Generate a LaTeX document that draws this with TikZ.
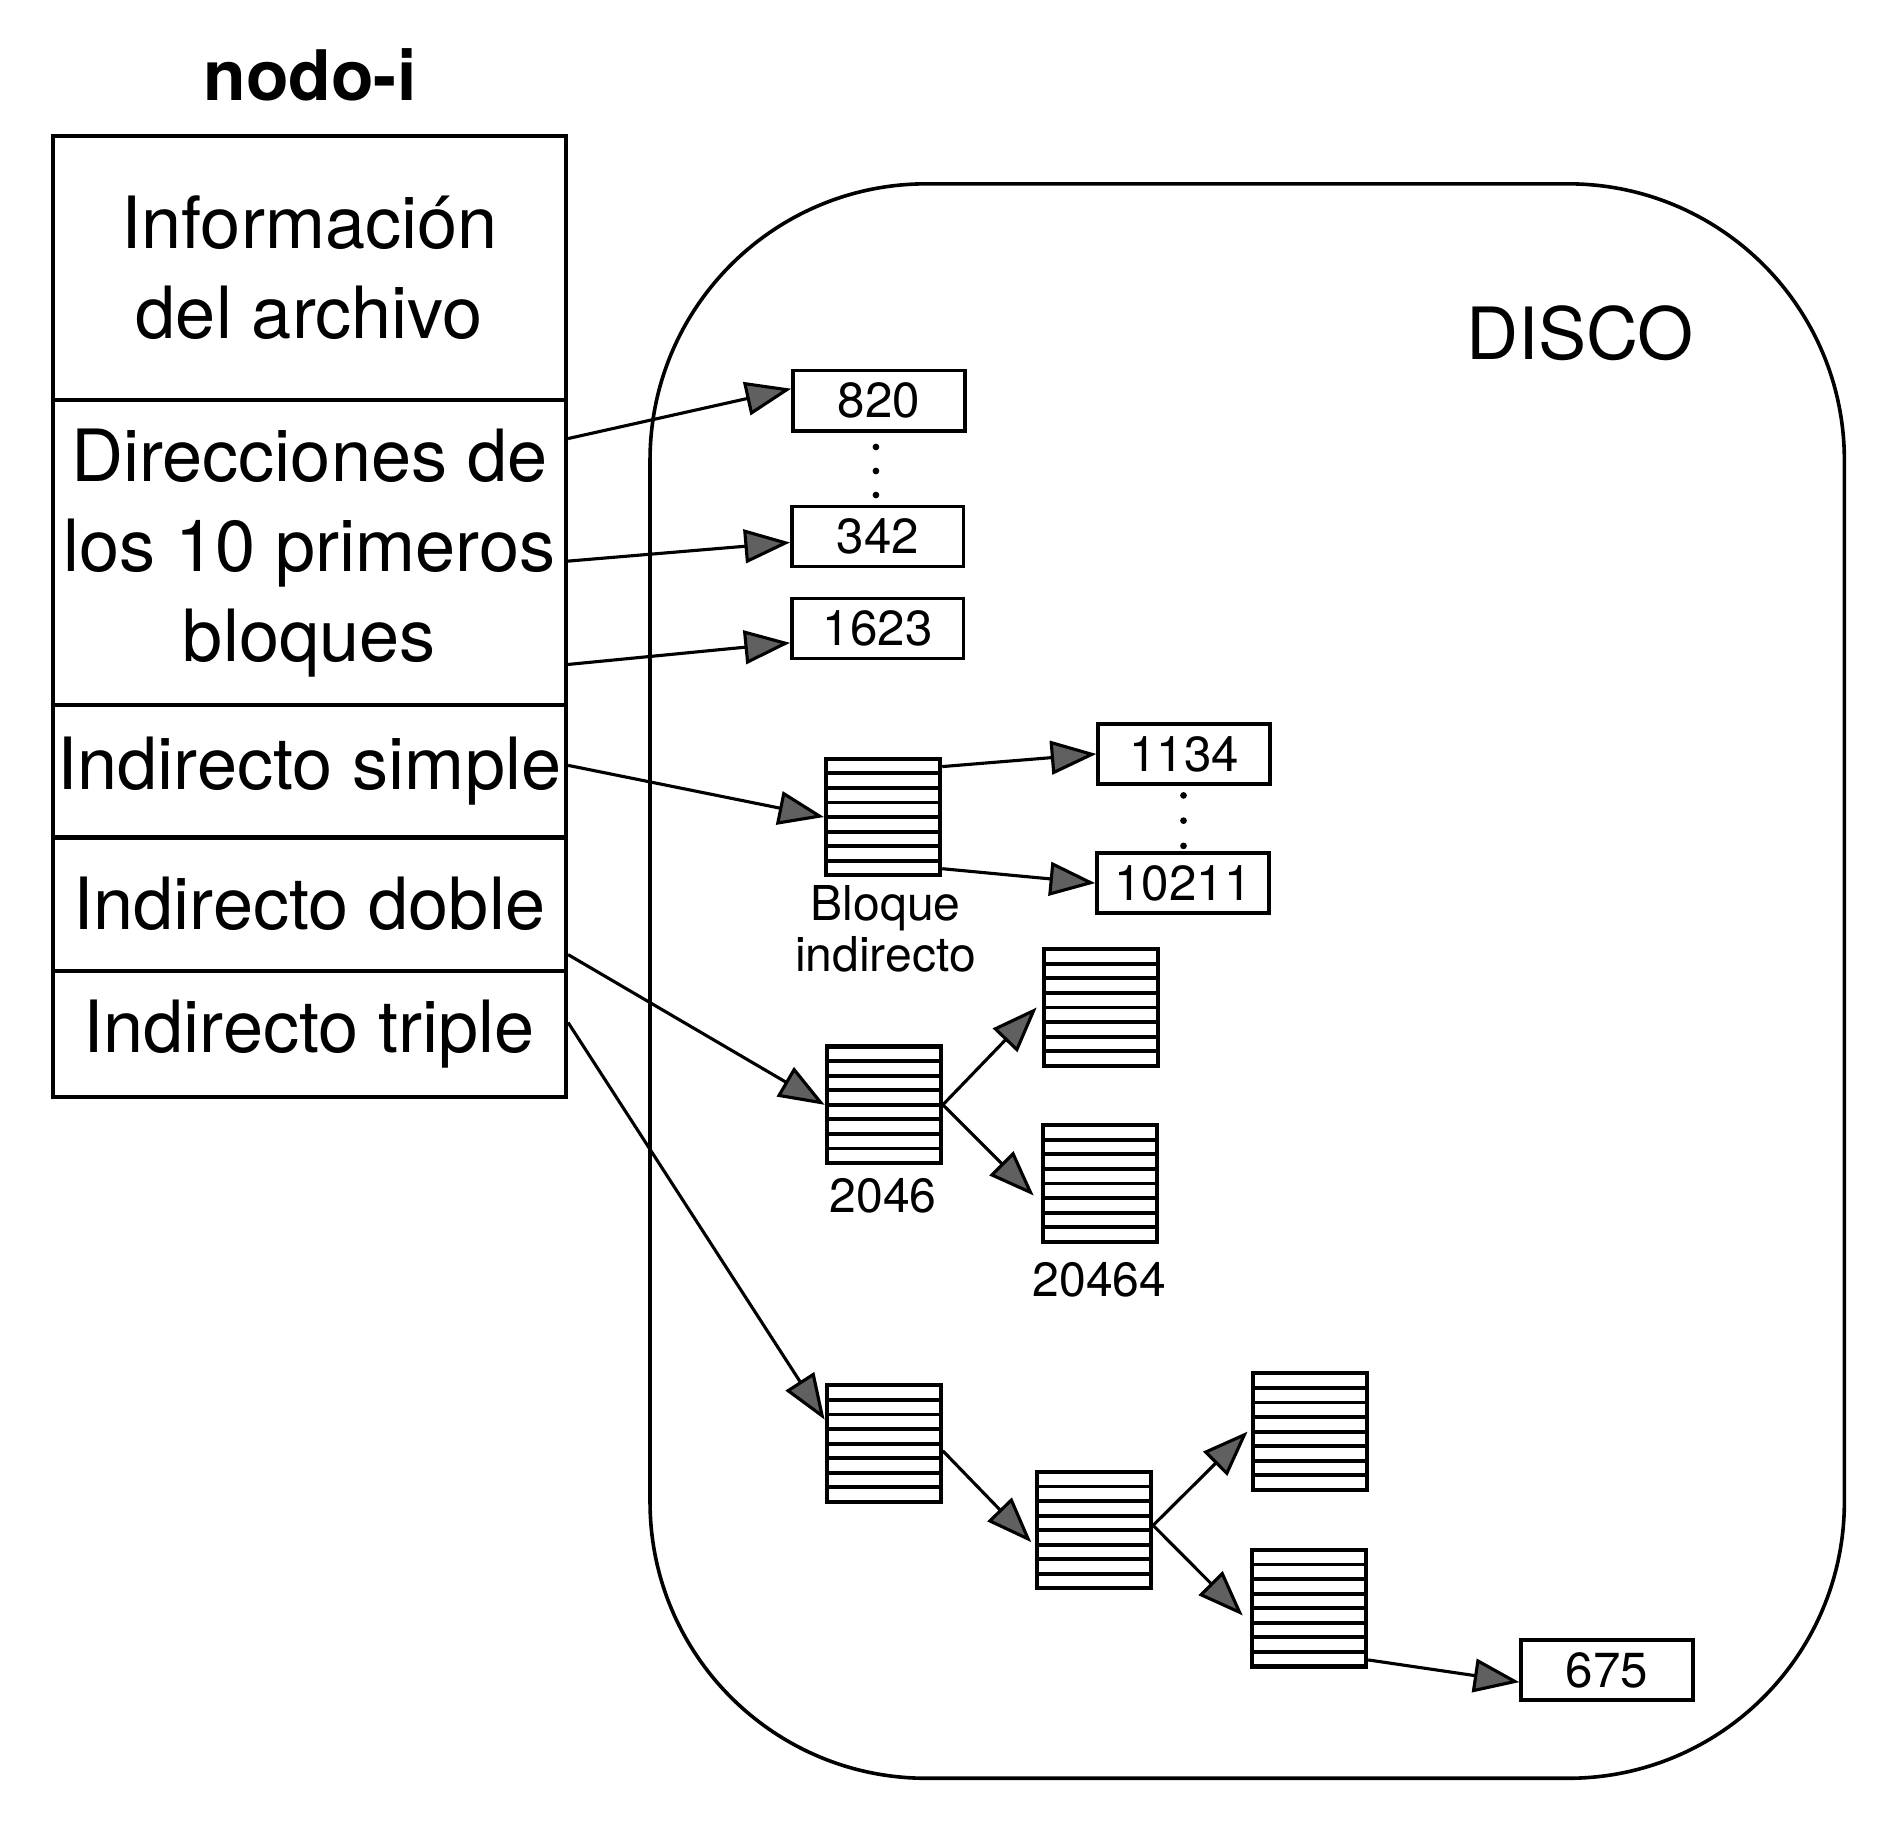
\documentclass[tikz,border=0pt]{standalone}
\usepackage{fontspec}
\setmainfont{TeX Gyre Heros}
\usetikzlibrary{arrows.meta}
\begin{document}
\begin{tikzpicture}[x=0.5pt,y=-0.5pt,
  cell/.style={draw, line width=1.8pt, minimum width=213.5pt, inner sep=0pt, align=center, font=\fontsize{30}{37.5}\selectfont},
  numbox/.style={draw, line width=1.5pt, minimum width=71.5pt, minimum height=25pt, inner sep=0pt, font=\fontsize{20.5}{24}\selectfont},
  blk/.style={draw, line width=1.7pt, minimum width=47.5pt, minimum height=48.5pt, inner sep=0pt,
    path picture={\foreach \k in {1,...,7}{\draw[line width=1.6pt] ([yshift={\k*48.5pt/8}]path picture bounding box.south west) -- ([yshift={\k*48.5pt/8}]path picture bounding box.south east);}}},
  arr/.style={line width=1.3pt, -{Triangle[length=19pt,width=14pt,fill=gray!75!black]}},
  lbl/.style={font=\fontsize{20}{21}\selectfont, align=center, inner sep=0pt},
  dotn/.style={circle, fill, inner sep=0pt, minimum size=2.8pt}
]
\useasboundingbox (0,0) rectangle (1568,1535);
\fill[white] (0,0) rectangle (1568,1535);

% disk
\node[draw, line width=1.5pt, rounded corners=115pt, minimum width=497pt, minimum height=663.5pt, inner sep=0pt] (disco) at (1038,816.5) {};
\node[font=\fontsize{30}{36}\selectfont, inner sep=0pt] (discolbl) at (1315,277) {DISCO};

% i-node
\node[font=\bfseries\fontsize{29}{34}\selectfont, inner sep=0pt] (title) at (258,62) {nodo-i};
\node[cell, minimum height=110pt] (info) at (257.5,223) {Información\\del archivo};
\node[cell, minimum height=127pt] (dir) at (257.5,460) {Direcciones de\\los 10 primeros\\bloques};
\node[cell, minimum height=55pt] (simple) at (257.5,642) {Indirecto simple};
\node[cell, minimum height=55.5pt] (doble) at (257.5,752.5) {Indirecto doble};
\node[cell, minimum height=52.5pt] (triple) at (257.5,860.5) {Indirecto triple};

% direct blocks
\node[numbox] (b820) at (731.5,333.5) {820};
\node[numbox] (b342) at (730.5,446.5) {342};
\node[numbox] (b1623) at (730.5,523) {1623};
\node[dotn] (d1) at (729,372) {};
\node[dotn] (d2) at (729,392) {};
\node[dotn] (d3) at (729,412) {};

% single indirect
\node[blk] (ib) at (735,680) {};
\node[lbl] (iblbl) at (737,773) {Bloque\\indirecto};
\node[numbox] (b1134) at (985.5,627.5) {1134};
\node[numbox] (b10211) at (984.5,735) {10211};
\node[dotn] (d4) at (985,662) {};
\node[dotn] (d5) at (985,683) {};
\node[dotn] (d6) at (985,704) {};

% double indirect
\node[blk] (b2046) at (735.5,919.5) {};
\node[lbl] (l2046) at (735,995) {2046};
\node[blk] (c1) at (916,838.5) {};
\node[blk] (c2) at (915.5,985) {};
\node[lbl] (l20464) at (915,1065) {20464};

% triple indirect
\node[blk] (t1) at (735.5,1201.5) {};
\node[blk] (t2) at (910.5,1273.5) {};
\node[blk] (t3) at (1090.5,1191.5) {};
\node[blk] (t4) at (1089.5,1338.5) {};
\node[numbox] (b675) at (1337.5,1390) {675};

% arrows
\draw[arr] ([yshift=47.5pt]dir.east) -- ([yshift=5pt]b820.west);
\draw[arr] ([yshift=-3.5pt]dir.east) -- ([yshift=-2.5pt]b342.west);
\draw[arr] ([yshift=-46.5pt]dir.east) -- ([yshift=-6pt]b1623.west);
\draw[arr] ([yshift=2.5pt]simple.east) -- (ib.west);
\draw[arr] ([yshift=-21pt]doble.east) -- (b2046.west);
\draw[arr] ([yshift=4.75pt]triple.east) -- ([yshift=10pt]t1.west);
\draw[arr] ([yshift=21pt]ib.east) -- (b1134.west);
\draw[arr] ([yshift=-21.5pt]ib.east) -- (b10211.west);
\draw[arr] (b2046.east) -- ([xshift=-2pt]c1.west);
\draw[arr] (b2046.east) -- ([xshift=-3pt,yshift=-5pt]c2.west);
\draw[arr] ([yshift=-3pt]t1.east) -- ([xshift=-1.5pt,yshift=-5pt]t2.west);
\draw[arr] ([yshift=2pt]t2.east) -- ([xshift=-1.5pt]t3.west);
\draw[arr] ([yshift=2pt]t2.east) -- ([xshift=-3pt,yshift=-3pt]t4.west);
\draw[arr] ([yshift=-21.5pt]t4.east) -- ([yshift=-5pt]b675.west);
\end{tikzpicture}
\end{document}
